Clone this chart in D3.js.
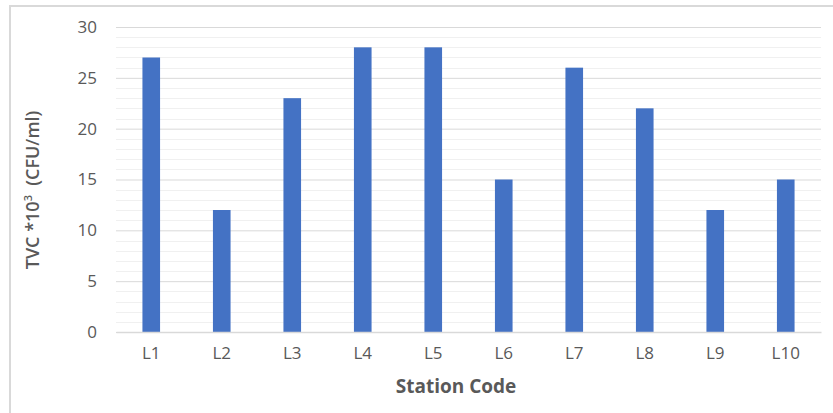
<!DOCTYPE html>
<html>
<head>
<meta charset="utf-8">
<script src="https://cdn.jsdelivr.net/npm/d3@7"></script>
<style>
  body { margin: 0; background: #fff; }
  text { font-family: "Open Sans", "Noto Sans", sans-serif; fill: #595959; }
</style>
</head>
<body>
<div id="chart"></div>
<script>
// data
var stations = ["L1", "L2", "L3", "L4", "L5", "L6", "L7", "L8", "L9", "L10"];
var tvc = [27, 12, 23, 28, 28, 15, 26, 22, 12, 15];
var yTicks = [0, 5, 10, 15, 20, 25, 30];

var width = 833,
  height = 413;
var margin = { left: 116, top: 27, right: 12, bottom: 81 };
var innerW = width - margin.left - margin.right;
var innerH = height - margin.top - margin.bottom;

var svg = d3
  .select("#chart")
  .append("svg")
  .attr("width", width)
  .attr("height", height);

// chart frame (runs off the right and bottom edges)
svg
  .append("rect")
  .attr("x", 10)
  .attr("y", 6)
  .attr("width", 840)
  .attr("height", 420)
  .attr("fill", "none")
  .attr("stroke", "#d9d9d9")
  .attr("stroke-width", 2);

var g = svg
  .append("g")
  .attr("transform", "translate(" + margin.left + "," + margin.top + ")");

var x = d3.scaleBand().domain(stations).range([0, innerW]).paddingInner(0.75).paddingOuter(0.375);
var y = d3.scaleLinear().domain([0, 30]).range([innerH, 0]);

// minor gridlines
g.append("g")
  .selectAll("line")
  .data(d3.range(0, 31).filter(function (d) { return d % 5 !== 0; }))
  .enter()
  .append("line")
  .attr("x1", 0)
  .attr("x2", innerW)
  .attr("y1", function (d) { return Math.round(y(d)) + 0.5; })
  .attr("y2", function (d) { return Math.round(y(d)) + 0.5; })
  .attr("stroke", "#f0f0f0");

// y axis with major gridlines
var yAxisG = g.append("g").call(
  d3.axisLeft(y).tickValues(yTicks).tickSize(-innerW).tickPadding(19).tickFormat(d3.format("d"))
);
yAxisG.select(".domain").remove();
yAxisG.selectAll(".tick line").attr("stroke", "#d9d9d9");
yAxisG.selectAll(".tick text").attr("font-size", 17).style("font-family", "Open Sans").attr("fill", "#595959");

// bars
g.selectAll(".bar")
  .data(stations)
  .enter()
  .append("rect")
  .attr("class", "bar")
  .attr("x", function (d) { return x(d); })
  .attr("width", x.bandwidth())
  .attr("y", function (d, i) { return y(tvc[i]); })
  .attr("height", function (d, i) { return innerH - y(tvc[i]); })
  .attr("fill", "#4472c4");

// x axis
var xAxisG = g
  .append("g")
  .attr("transform", "translate(0," + innerH + ")")
  .call(d3.axisBottom(x).tickSize(0).tickPadding(15));
xAxisG.select(".domain").attr("stroke", "#d9d9d9").attr("stroke-width", 1.5);
xAxisG.selectAll(".tick text").attr("font-size", 17).style("font-family", "Open Sans").attr("fill", "#595959");

// axis titles
svg
  .append("text")
  .attr("x", 456)
  .attr("y", 393)
  .attr("text-anchor", "middle")
  .attr("font-size", 19)
  .attr("font-weight", "bold")
  .text("Station Code");

var yt = svg
  .append("text")
  .attr("transform", "translate(39,190) rotate(-90)")
  .attr("text-anchor", "middle")
  .attr("font-size", 18)
  .attr("font-weight", 600);
yt.append("tspan").text("TVC *10");
yt.append("tspan").attr("font-size", 11).attr("dy", -7).text("3");
yt.append("tspan").attr("dy", 7).text("  (CFU/ml)").attr("xml:space", "preserve");
</script>
</body>
</html>
